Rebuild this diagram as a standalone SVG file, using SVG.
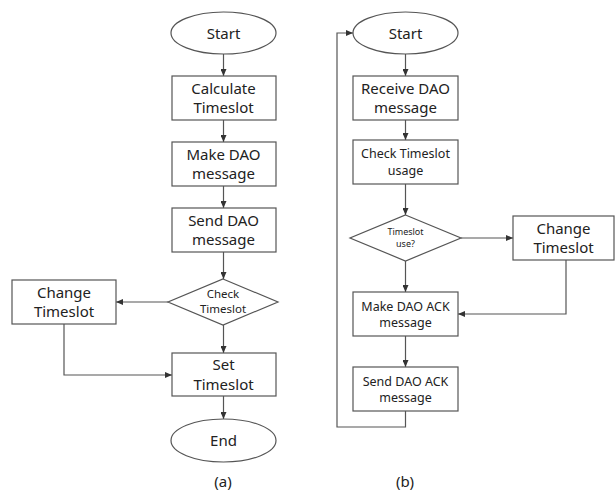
<svg xmlns="http://www.w3.org/2000/svg" width="615" height="491" viewBox="0 0 615 491">
<defs>
<style>
.n{fill:#fff;stroke:#555;stroke-width:1.2}
.c{fill:none;stroke:#555;stroke-width:1.2}
text{font-family:"Noto Sans","Open Sans","DejaVu Sans",sans-serif;fill:#222;text-anchor:middle}
.l{font-size:15px}
.m{font-size:12.5px}
.s{font-size:11.5px}
.xs{font-size:9px}
.cap{font-size:15px}
</style>
<marker id="ah" markerWidth="7" markerHeight="6" refX="7" refY="3" orient="auto" markerUnits="userSpaceOnUse">
<path d="M0,0 L7,3 L0,6 Z" fill="#333"/>
</marker>
</defs>
<rect width="615" height="491" fill="#fff"/>
<g id="connectors">
<line class="c" x1="223.5" y1="54" x2="223.5" y2="76" marker-end="url(#ah)"/>
<line class="c" x1="223.5" y1="120" x2="223.5" y2="142" marker-end="url(#ah)"/>
<line class="c" x1="223.5" y1="186" x2="223.5" y2="208" marker-end="url(#ah)"/>
<line class="c" x1="223.5" y1="252" x2="223.5" y2="279" marker-end="url(#ah)"/>
<line class="c" x1="168" y1="302" x2="116" y2="302" marker-end="url(#ah)"/>
<line class="c" x1="223.5" y1="325" x2="223.5" y2="353" marker-end="url(#ah)"/>
<polyline class="c" points="64,324 64,375 172,375" marker-end="url(#ah)"/>
<line class="c" x1="223.5" y1="396" x2="223.5" y2="419" marker-end="url(#ah)"/>
<line class="c" x1="405.5" y1="54" x2="405.5" y2="76" marker-end="url(#ah)"/>
<line class="c" x1="405.5" y1="120" x2="405.5" y2="140" marker-end="url(#ah)"/>
<line class="c" x1="405.5" y1="184" x2="405.5" y2="215" marker-end="url(#ah)"/>
<line class="c" x1="461" y1="238" x2="513" y2="238" marker-end="url(#ah)"/>
<line class="c" x1="405.5" y1="261" x2="405.5" y2="292" marker-end="url(#ah)"/>
<polyline class="c" points="566,260 566,314 458,314" marker-end="url(#ah)"/>
<line class="c" x1="405.5" y1="336" x2="405.5" y2="367" marker-end="url(#ah)"/>
<polyline class="c" points="405.5,411 405.5,427 337,427 337,33 353,33" marker-end="url(#ah)"/>
</g>
<g id="a-start"><ellipse class="n" cx="223.5" cy="33" rx="52.5" ry="21"/><text class="l" x="223.5" y="38.5">Start</text></g>
<g id="a-calc"><rect class="n" x="172" y="76" width="104" height="44"/><text class="l" x="223.5" y="93.5">Calculate</text><text class="l" x="223.5" y="113">Timeslot</text></g>
<g id="a-make"><rect class="n" x="172" y="142" width="104" height="44"/><text class="l" x="223.5" y="159.5">Make DAO</text><text class="l" x="223.5" y="179">message</text></g>
<g id="a-send"><rect class="n" x="172" y="208" width="104" height="44"/><text class="l" x="223.5" y="225.5">Send DAO</text><text class="l" x="223.5" y="245">message</text></g>
<g id="a-check"><polygon class="n" points="223,279 278,302 223,325 168,302"/><text class="s" x="223" y="298">Check</text><text class="s" x="223" y="313">Timeslot</text></g>
<g id="a-change"><rect class="n" x="12" y="280" width="104" height="44"/><text class="l" x="64" y="297.5">Change</text><text class="l" x="64" y="317">Timeslot</text></g>
<g id="a-set"><rect class="n" x="172" y="353" width="104" height="43"/><text class="l" x="223.5" y="370">Set</text><text class="l" x="223.5" y="389.5">Timeslot</text></g>
<g id="a-end"><ellipse class="n" cx="223.5" cy="440.5" rx="52.5" ry="21.5"/><text class="l" x="223.5" y="446">End</text></g>
<g id="b-start"><ellipse class="n" cx="405.5" cy="33" rx="52.5" ry="21"/><text class="l" x="405.5" y="38.5">Start</text></g>
<g id="b-receive"><rect class="n" x="353" y="76" width="105" height="44"/><text class="l" x="405.5" y="93.5">Receive DAO</text><text class="l" x="405.5" y="113">message</text></g>
<g id="b-check"><rect class="n" x="353" y="140" width="105" height="44"/><text class="m" x="405.5" y="158">Check Timeslot</text><text class="m" x="405.5" y="175">usage</text></g>
<g id="b-use"><polygon class="n" points="405.5,215 461,238 405.5,261 350,238"/><text class="xs" x="405.5" y="235">Timeslot</text><text class="xs" x="405.5" y="247">use?</text></g>
<g id="b-change"><rect class="n" x="513" y="216" width="101" height="44"/><text class="l" x="563.5" y="233.5">Change</text><text class="l" x="563.5" y="253">Timeslot</text></g>
<g id="b-makeack"><rect class="n" x="353" y="292" width="105" height="44"/><text class="m" x="405.5" y="311">Make DAO ACK</text><text class="m" x="405.5" y="327">message</text></g>
<g id="b-sendack"><rect class="n" x="353" y="367" width="105" height="44"/><text class="m" x="405.5" y="386">Send DAO ACK</text><text class="m" x="405.5" y="402">message</text></g>
<text class="cap" x="223" y="487">(a)</text>
<text class="cap" x="405" y="487">(b)</text>
</svg>
